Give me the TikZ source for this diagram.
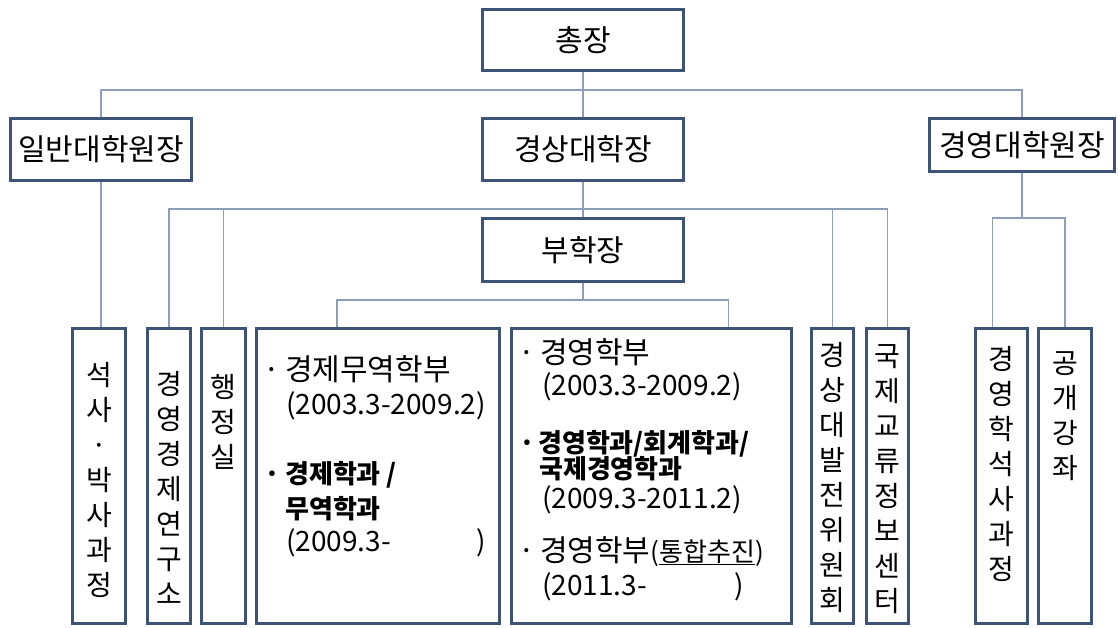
\documentclass[tikz,border=0pt]{standalone}
\usepackage{fontspec}
\setmainfont{Noto Sans CJK KR}
\usepackage{tikz}
\definecolor{boxline}{RGB}{62,84,118}
\definecolor{linkline}{RGB}{140,158,186}
\tikzset{
  box/.style={draw=boxline, line width=3pt, fill=white, inner sep=0pt, font=\fontsize{30}{34}\selectfont},
  vtext/.style={anchor=north, inner sep=0pt, align=center, font=\fontsize{28}{35}\selectfont},
  entry/.style={anchor=base west, inner sep=0pt, font=\fontsize{30}{34}\selectfont},
  entryd/.style={anchor=base west, inner sep=0pt, font=\fontsize{28}{34}\selectfont},
  entryb/.style={anchor=base west, inner sep=0pt, font=\fontsize{26}{30}\selectfont\bfseries},
  link/.style={draw=linkline, line width=1.5pt}
}

\begin{document}
\begin{tikzpicture}[x=1pt,y=-1pt]
            \useasboundingbox (0,0) rectangle (1118,627);

            \node[box, minimum width=201pt, minimum height=61pt] at (583,40) (pres) {총장};
            \node[box, minimum width=201pt, minimum height=62pt] at (583,149.5) (dean) {경상대학장};
            \node[box, minimum width=201pt, minimum height=63pt] at (583,250) (vice) {부학장};
            \node[box, minimum width=181pt, minimum height=62pt] at (101,149.5) (grad) {일반대학원장};
            \node[box, minimum width=185pt, minimum height=53pt] at (1022,145) (mba) {경영대학원장};

            \node[box, minimum width=53pt, minimum height=295pt] at (99,476) (ms) {};
            \node[box, minimum width=43pt, minimum height=295pt] at (169,476) (inst) {};
            \node[box, minimum width=44pt, minimum height=295pt] at (223.5,476) (admin) {};
            \node[box, minimum width=243pt, minimum height=295pt] at (378,476) (econ) {};
            \node[box, minimum width=280pt, minimum height=295pt] at (651.5,476) (biz) {};
            \node[box, minimum width=42pt, minimum height=295pt] at (832.5,476) (comm) {};
            \node[box, minimum width=42pt, minimum height=295pt] at (887.5,476) (intl) {};
            \node[box, minimum width=52pt, minimum height=295pt] at (1001.5,476) (mbac) {};
            \node[box, minimum width=53pt, minimum height=295pt] at (1065,476) (open) {};

            % vertical labels
            \node[vtext] at (99,362) (msT) {석\\사\\·\\박\\사\\과\\정};
            \node[vtext] at (169,371) (instT) {경\\영\\경\\제\\연\\구\\소};
            \node[vtext] at (223.5,374) (adminT) {행\\정\\실};
            \node[vtext] at (832.5,342) (commT) {경\\상\\대\\발\\전\\위\\원\\회};
            \node[vtext] at (887.5,344) (intlT) {국\\제\\교\\류\\정\\보\\센\\터};
            \node[vtext] at (1001.5,346) (mbacT) {경\\영\\학\\석\\사\\과\\정};
            \node[vtext] at (1065,351) (openT) {공\\개\\강\\좌};

            % department lists
            \node[entry] at (285,380) (e1) {\llap{·\hspace{5pt}}경제무역학부};
            \node[entryd] at (286,414) (e2) {(2003.3-2009.2)};
            \node[entryb] at (285,483) (e3) {\llap{·\hspace{5pt}}경제학과 /};
            \node[entryb] at (285,518) (e4) {무역학과};
            \node[entryd] at (286,551) (e5) {(2009.3-\hspace{86pt})};

            \node[entry] at (540,363) (b1) {\llap{·\hspace{5pt}}경영학부};
            \node[entryd] at (542,395) (b2) {(2003.3-2009.2)};
            \node[entryb] at (538,452) (b3) {\llap{·\hspace{3pt}}경영학과/회계학과/};
            \node[entryb] at (539,478) (b4) {국제경영학과};
            \node[entryd] at (542,508) (b5) {(2009.3-2011.2)};
            \node[entry] at (540,561) (b6) {\llap{·\hspace{5pt}}경영학부{\fontsize{26}{26}\selectfont(\underline{통합추진})}};
            \node[entryd] at (542,595) (b7) {(2011.3-\hspace{88pt})};

            \coordinate (j1) at (583,90);
            \coordinate (j2) at (583,209);
            \coordinate (j3) at (583,300);
            \coordinate (j4) at (1022,218);

            \draw[link] (grad.north) |- (j1) -| (mba.north);
            \draw[link] (pres.south) -- (dean.north);
            \draw[link] (dean.south) -- (vice.north);
            \draw[link] (vice.south) -- (j3);
            \draw[link] (inst.north) |- (j2) -| (intl.north);
            \draw[link] (admin.north) |- (j2);
            \draw[link] (comm.north) |- (j2);
            \draw[link] ([xshift=-41pt]econ.north) |- (j3) -| ([xshift=77pt]biz.north);
            \draw[link] (grad.south) -- (grad.south |- ms.north);
            \draw[link] (mba.south) -- (j4);
            \draw[link] ([xshift=-9pt]mbac.north) |- (j4) -| (open.north);
        \end{tikzpicture}
\end{document}
